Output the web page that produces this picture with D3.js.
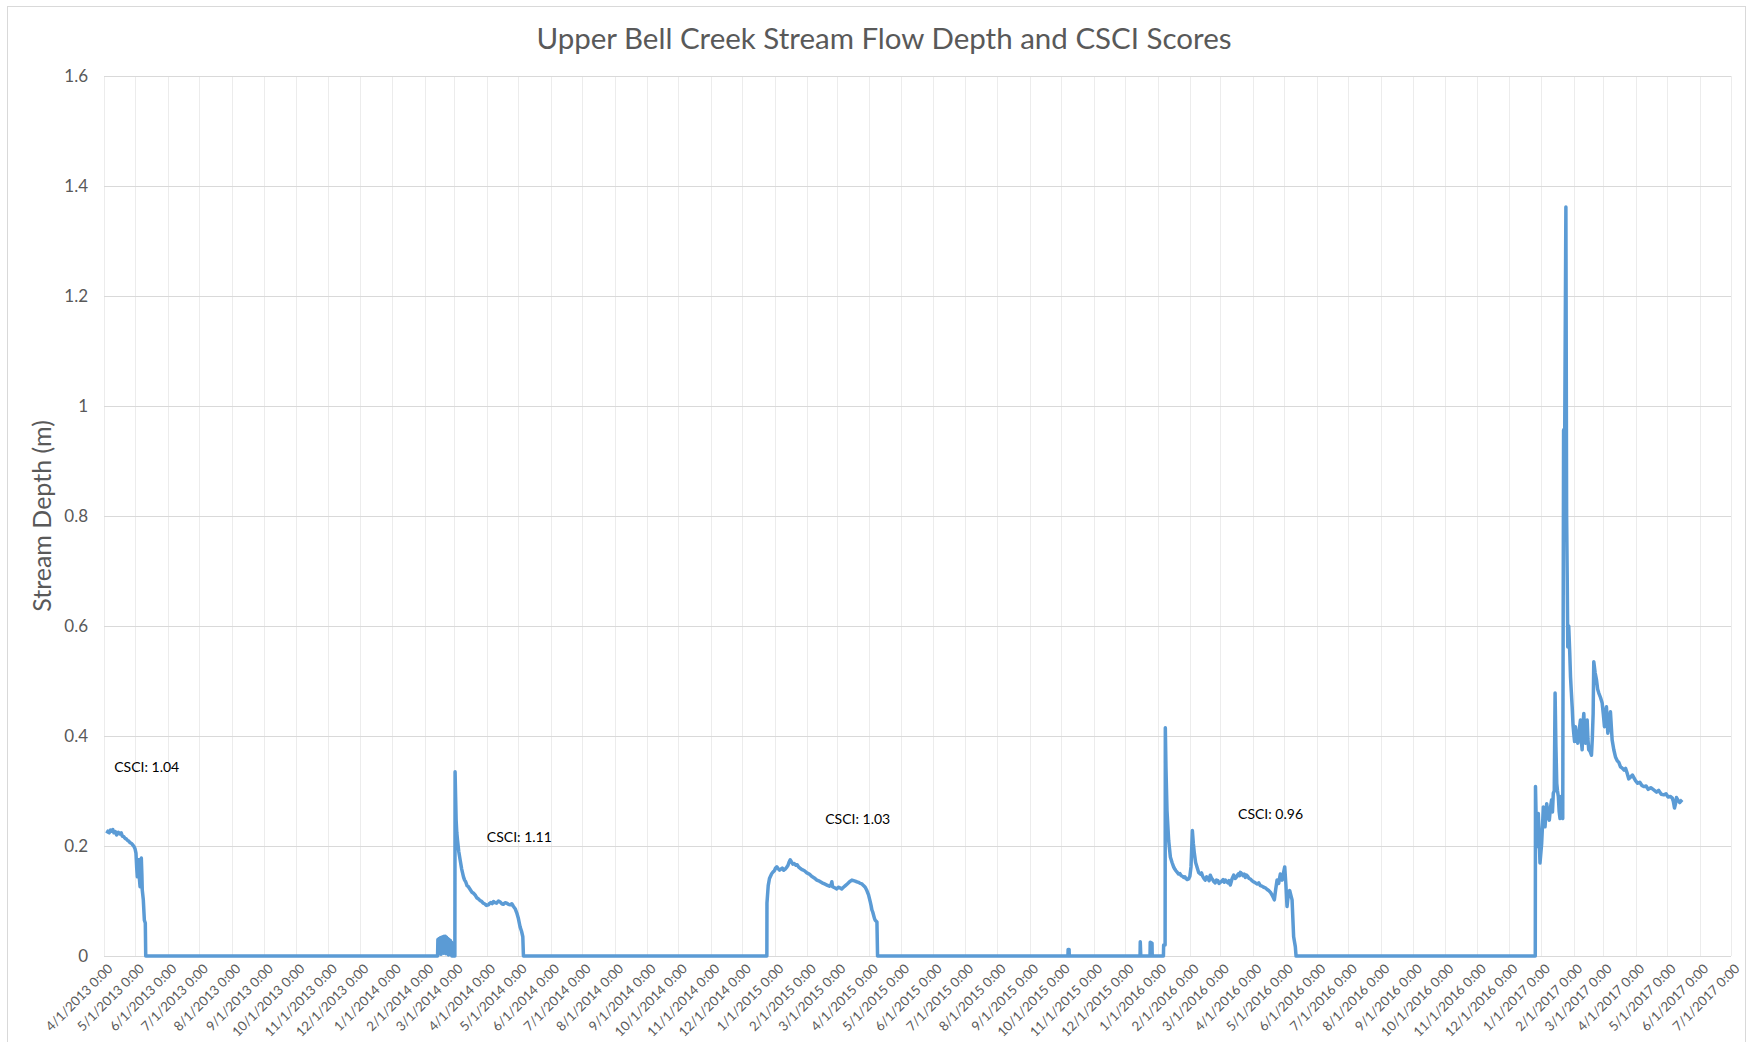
<!DOCTYPE html>
<html>
<head>
<meta charset="utf-8">
<script src="https://cdn.jsdelivr.net/npm/d3@7"></script>
<style>
  body { margin: 0; background: #fff; }
  #chart text { font-family: Lato, "Open Sans", sans-serif; }
</style>
</head>
<body>
<div id="chart"></div>
<script>
/* stream depth readings: [days since 4/1/2013, depth in m] */
var startDate = new Date(Date.UTC(2013, 3, 1));
var endDate = new Date(Date.UTC(2017, 6, 1));

var season2013 = [
	[2.6,0.223],[3.8,0.227],[5,0.224],[6.2,0.229],[7.3,0.227],[8.4,0.230],[9.5,0.224],[10.8,0.226],
	[12.1,0.220],[13.6,0.225],[15.3,0.222],[16.4,0.224],[17.5,0.218],[18.8,0.217],[20,0.214],
	[21.2,0.213],[22.5,0.210],[23.6,0.209],[24.8,0.206],[26,0.205],[27,0.203],[28.6,0.199],
	[29.6,0.195],[30.5,0.187],[31.2,0.160],[31.8,0.144],[32.5,0.168],[33.1,0.175],[33.8,0.140],
	[34.4,0.126],[35,0.165],[35.6,0.178],[36.1,0.150],[36.5,0.120],[37.5,0.102],[38.5,0.065],
	[39.4,0.060],[39.8,0]
];

var season2014 = [
	[318.2,0],[318.5,0.030],[319.1,0.004],[319.6,0.032],[320.2,0.006],[320.8,0.033],[321.4,0.003],
	[322,0.034],[322.6,0.010],[323.2,0.035],[323.8,0.005],[324.4,0.036],[325,0.012],[325.6,0.036],
	[326.2,0.004],[326.8,0.034],[327.4,0.008],[328,0.032],[328.6,0.002],[329.2,0.030],[329.8,0.006],
	[330.4,0.028],[331,0.003],[331.5,0.025],[331.8,0],[334.7,0],
	[334.9,0.335],[335.4,0.290],[335.9,0.247],[336.5,0.225],[337.2,0.211],[338.4,0.190],[339.7,0.175],
	[341.2,0.158],[342.9,0.144],[344,0.138],[345,0.135],[346.3,0.128],[347.6,0.126],[349.3,0.121],
	[351,0.116],[352.5,0.114],[354,0.111],[355.5,0.106],[357,0.104],[358.7,0.101],[360.4,0.099],
	[361.7,0.096],[363,0.095],[364.8,0.092],[366.7,0.093],[368,0.096],[369,0.097],[370.3,0.095],
	[371.5,0.099],[373,0.097],[374.5,0.096],[376.2,0.100],[377.9,0.098],[379.5,0.095],[381,0.094],
	[382.6,0.097],[384.2,0.096],[385.8,0.094],[387.5,0.093],[389,0.095],[390.6,0.090],[392.2,0.086],
	[393.8,0.078],[395.3,0.068],[396.9,0.053],[398.3,0.045],[399.5,0.035],[400.1,0]
];

var season2015 = [
	[632.3,0],[632.4,0.096],[633.6,0.128],[634.8,0.141],[636,0.146],[637,0.150],[638.3,0.153],
	[639.5,0.155],[640.6,0.160],[641.8,0.162],[643,0.159],[644.4,0.156],[645.7,0.158],[647,0.160],
	[648.4,0.156],[649.8,0.158],[651.2,0.161],[652.5,0.165],[653.6,0.171],[654.6,0.175],[655.8,0.171],
	[657.1,0.167],[658.5,0.168],[660,0.165],[661.2,0.166],[662.5,0.162],[664.3,0.159],[666,0.157],
	[668.2,0.155],[670.5,0.151],[672.8,0.149],[675,0.145],[677.5,0.142],[680,0.138],[682.5,0.136],
	[685,0.133],[687.3,0.131],[689.6,0.129],[692,0.127],[693.6,0.130],[694.3,0.135],[695,0.126],
	[697,0.124],[699,0.122],[700.5,0.125],[702,0.124],[703.7,0.122],[705.4,0.125],[707.2,0.128],
	[709,0.131],[711.2,0.135],[713.4,0.138],[715,0.137],[716.5,0.136],[718,0.135],[719.7,0.134],
	[721.3,0.132],[723,0.131],[724.5,0.128],[726.1,0.125],[727.7,0.119],[729.3,0.111],[731,0.098],
	[731.8,0.091],[732.5,0.084],[733.3,0.080],[734,0.075],[735,0.068],[735.7,0.065],[737.3,0.062],[737.9,0]
];

var season2016 = [
	[919.5,0],[919.7,0.012],[920.6,0.012],[920.8,0],
	[988.3,0],[988.5,0.026],[989,0],[997.8,0],[998,0.025],[999.7,0.023],[999.9,0],
	[1010.6,0],[1010.8,0.020],[1012.2,0.020],[1012.4,0.415],[1013,0.343],[1014,0.264],[1015.6,0.210],
	[1016.4,0.195],[1017.2,0.180],[1018.8,0.170],[1020.3,0.162],[1021.4,0.158],[1022.5,0.155],
	[1023.8,0.152],[1025.1,0.149],[1026.3,0.150],[1027.5,0.146],[1028.7,0.145],[1029.9,0.143],
	[1031,0.144],[1032,0.141],[1033.3,0.139],[1034.6,0.140],[1035.8,0.145],[1036.9,0.162],
	[1038.2,0.228],[1039.1,0.205],[1040,0.188],[1041.3,0.170],[1042.6,0.162],[1044.2,0.152],
	[1045.8,0.149],[1046.9,0.151],[1048,0.145],[1049.2,0.141],[1050.5,0.138],[1051.8,0.144],
	[1053,0.142],[1054.2,0.137],[1055.3,0.147],[1056.4,0.142],[1057.5,0.139],[1058.8,0.135],
	[1060,0.133],[1061.2,0.138],[1062.5,0.137],[1063.7,0.132],[1064.9,0.134],[1066.2,0.136],
	[1067.5,0.139],[1068.6,0.134],[1069.7,0.138],[1070.9,0.135],[1072,0.133],[1073.2,0.137],
	[1074.4,0.129],[1076,0.140],[1077.6,0.147],[1079,0.141],[1080.5,0.144],[1081.5,0.148],
	[1082.5,0.150],[1083.3,0.146],[1084,0.152],[1085.2,0.150],[1086.5,0.146],[1087.7,0.149],
	[1088.8,0.143],[1089.9,0.147],[1091,0.145],[1092.2,0.141],[1093.5,0.140],[1095,0.137],
	[1096.5,0.135],[1098.2,0.133],[1100,0.131],[1101.5,0.133],[1103,0.128],[1104.6,0.127],
	[1106.2,0.125],[1107.8,0.124],[1109.5,0.121],[1111,0.119],[1112.6,0.116],[1114.5,0.110],
	[1116.4,0.102],[1117.6,0.120],[1119,0.138],[1120.5,0.132],[1122.1,0.149],[1123.8,0.138],
	[1125,0.150],[1126.3,0.162],[1127.4,0.130],[1128.5,0.090],[1129.7,0.112],[1131,0.119],
	[1132.2,0.110],[1133.3,0.102],[1134.8,0.035],[1136.4,0.017],[1137.1,0]
];

var season2017 = [
	[1365.3,0],[1365.5,0.308],[1366.7,0.199],[1368.2,0.259],[1369.8,0.169],[1371.4,0.205],
	[1373,0.271],[1374.6,0.235],[1376.2,0.277],[1377.5,0.255],[1378.7,0.247],[1379.8,0.270],
	[1380.9,0.284],[1381.7,0.262],[1382.5,0.296],[1383.4,0.300],[1384.2,0.478],[1385,0.380],
	[1385.8,0.314],[1386.5,0.300],[1387.3,0.290],[1388.1,0.262],[1388.9,0.250],[1389.8,0.290],
	[1390.6,0.255],[1391.5,0.250],[1392.3,0.956],[1393.4,0.960],[1394.5,1.362],[1395.2,0.800],
	[1395.8,0.680],[1396.3,0.562],[1397.2,0.600],[1398.2,0.550],[1398.9,0.508],[1399.7,0.480],
	[1400.5,0.453],[1401.3,0.420],[1402,0.405],[1402.8,0.390],[1403.6,0.417],[1404.7,0.395],
	[1405.9,0.387],[1407.2,0.410],[1408.4,0.429],[1409.2,0.392],[1410,0.375],[1410.8,0.420],
	[1411.6,0.441],[1412.4,0.400],[1413.2,0.387],[1414,0.415],[1414.8,0.429],[1415.5,0.395],
	[1416.3,0.375],[1417.6,0.372],[1418.9,0.365],[1419.7,0.395],[1420.5,0.441],[1421.1,0.535],
	[1422.4,0.515],[1423.7,0.502],[1424.8,0.485],[1425.9,0.478],[1427.5,0.470],[1429.1,0.460],
	[1430.2,0.440],[1431.3,0.417],[1432.2,0.440],[1433.2,0.453],[1434.5,0.405],[1435.8,0.425],
	[1437,0.444],[1438.6,0.393],[1440.2,0.375],[1441.8,0.362],[1443.5,0.355],[1445,0.352],
	[1446.6,0.344],[1448,0.342],[1450,0.338],[1451.5,0.341],[1453,0.332],[1454.5,0.322],
	[1456.5,0.326],[1458,0.329],[1460.9,0.319],[1463,0.314],[1465,0.316],[1467,0.310],
	[1468.8,0.308],[1471,0.309],[1473,0.303],[1475.5,0.306],[1478.3,0.302],[1481,0.298],
	[1483,0.301],[1485.5,0.294],[1487.9,0.293],[1490,0.295],[1492,0.289],[1494.3,0.290],
	[1496,0.287],[1497,0.281],[1498.1,0.269],[1499,0.276],[1500,0.288],[1501.5,0.283],
	[1503,0.279],[1505.4,0.284]
];

/* CSCI score labels, placed at [days, depth] */
var csciText = ["CSCI: 1.04", "CSCI: 1.11", "CSCI: 1.03", "CSCI: 0.96"];
var csciDay = [9.8, 365.2, 688, 1081.8];
var csciDepth = [0.335, 0.208, 0.240, 0.249];

var yTicks = [0, 0.2, 0.4, 0.6, 0.8, 1, 1.2, 1.4, 1.6];

var w = 1748, h = 1042;
var plotLeft = 104, plotRight = 1731, plotTop = 76, plotBottom = 956;

function toDate(day) {
	return new Date(startDate.getTime() + day * 864e5);
}

var dataset = season2013.concat(season2014, season2015, season2016, season2017);

var xScale = d3.scaleUtc()
	.domain([startDate, endDate])
	.range([plotLeft, plotRight]);

var yScale = d3.scaleLinear()
	.domain([0, 1.6])
	.range([plotBottom, plotTop]);

var svg = d3.select("#chart").append("svg").attr("width", w).attr("height", h);

/* chart frame */
svg.append("rect")
	.attr("x", 7.5).attr("y", 6.5)
	.attr("width", 1738).attr("height", 1100)
	.attr("fill", "#fff")
	.attr("stroke", "#d9d9d9");

var months = d3.utcMonth.range(startDate, d3.utcDay.offset(endDate, 1));

/* vertical grid */
svg.append("g")
	.selectAll("line").data(months).enter()
	.append("line")
	.attr("x1", function(d){ return Math.round(xScale(d)) + 0.5; })
	.attr("x2", function(d){ return Math.round(xScale(d)) + 0.5; })
	.attr("y1", plotTop)
	.attr("y2", plotBottom)
	.attr("stroke", "#ececec");

/* horizontal grid */
svg.append("g")
	.selectAll("line").data(yTicks).enter()
	.append("line")
	.attr("x1", plotLeft)
	.attr("x2", plotRight)
	.attr("y1", function(d){ return Math.round(yScale(d)) + 0.5; })
	.attr("y2", function(d){ return Math.round(yScale(d)) + 0.5; })
	.attr("stroke", "#d9d9d9");

var yAxis = d3.axisLeft(yScale)
	.tickValues(yTicks)
	.tickSize(0)
	.tickPadding(0)
	.tickFormat(function(d){ return String(+d.toFixed(1)); });

var gy = svg.append("g")
	.attr("transform", "translate(" + (plotLeft - 16) + ",0)")
	.call(yAxis);
gy.select(".domain").remove();
gy.selectAll("text")
	.attr("fill", "#595959")
	.style("font-family", "Lato, 'Open Sans', sans-serif")
	.style("font-size", "17px");

var xFormat = d3.utcFormat("%-m/%-d/%Y 0:00");

svg.append("g")
	.selectAll("text").data(months).enter()
	.append("text")
	.attr("transform", function(d){ return "translate(" + (xScale(d) + 3) + "," + (plotBottom + 7) + ") rotate(-45)"; })
	.attr("text-anchor", "end")
	.attr("dy", "0.7em")
	.attr("fill", "#595959")
	.style("font-size", "13.3px")
	.text(function(d){ return xFormat(d); });

var line = d3.line()
	.x(function(d){ return xScale(toDate(d[0])); })
	.y(function(d){ return yScale(d[1]); });

svg.append("path")
	.datum(dataset)
	.attr("d", line)
	.attr("fill", "none")
	.attr("stroke", "#5b9bd5")
	.attr("stroke-width", 3.5)
	.attr("stroke-linejoin", "round");

/* CSCI labels */
svg.append("g")
	.selectAll("text").data(csciText).enter()
	.append("text")
	.attr("x", function(d, i){ return xScale(toDate(csciDay[i])); })
	.attr("y", function(d, i){ return yScale(csciDepth[i]); })
	.attr("fill", "#000")
	.style("font-size", "14px")
	.text(function(d){ return d; });

/* title */
svg.append("text")
	.attr("x", 884)
	.attr("y", 49)
	.attr("text-anchor", "middle")
	.attr("fill", "#595959")
	.style("font-size", "29.5px")
	.text("Upper Bell Creek Stream Flow Depth and CSCI Scores");

/* vertical axis label */
svg.append("text")
	.attr("transform", "translate(51,516) rotate(-90)")
	.attr("text-anchor", "middle")
	.attr("fill", "#595959")
	.style("font-size", "25px")
	.text("Stream Depth (m)");
</script>
</body>
</html>
